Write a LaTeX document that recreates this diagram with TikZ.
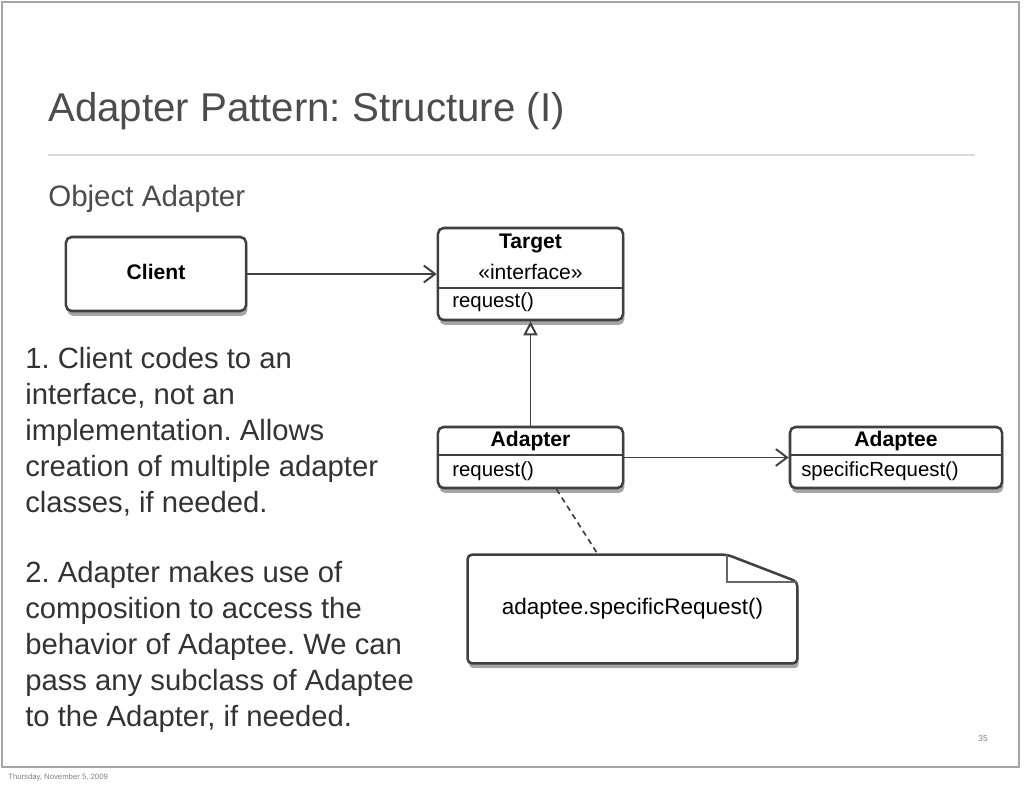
\documentclass[tikz,border=0pt]{standalone}
\usepackage{fontspec}
\setmainfont{Liberation Sans}
\usetikzlibrary{arrows.meta,shadows}
\frenchspacing

\tikzset{
  umlbox/.style={draw=black!75, line width=1.8pt, rounded corners=4pt, fill=white,
    drop shadow={shadow xshift=1pt, shadow yshift=-3.5pt, opacity=.5, fill=black!70}},
  classname/.style={font=\fontsize{15}{17}\selectfont\bfseries, inner sep=0pt},
  member/.style={font=\fontsize{14.5}{17}\selectfont, inner sep=0pt, anchor=west},
  compline/.style={black!75, line width=1.4pt},
  assoc/.style={draw=black!75, line width=1.4pt, -{Straight Barb[length=8pt,width=12pt,line width=1.4pt]}},
  realize/.style={draw=black!75, line width=1.4pt, -{Triangle[open,length=10pt,width=10pt,fill=white]}},
  noteline/.style={draw=black!75, line width=1.2pt, dash pattern=on 4pt off 3pt},
  bodytext/.style={font=\fontsize{20.8}{25.6}\selectfont, text=black!80, align=left, inner sep=0pt, anchor=north west},
}

\begin{document}
\begin{tikzpicture}[x=0.025cm,y=-0.025cm]

   \useasboundingbox (0,0) rectangle (1024,788);
   \draw[black!35, line width=1.5pt] (2,2) rectangle (1019,767);

   \node[anchor=base west, inner sep=0pt, text=black!70, font=\fontsize{28.6}{32}\selectfont] (title) at (48,122) {Adapter Pattern: Structure (I)};
   \draw[black!15, line width=1.5pt] (48,155) -- (975,155);
   \node[anchor=base west, inner sep=0pt, text=black!70, font=\fontsize{21}{24}\selectfont] (subtitle) at (48,206) {Object Adapter};

   \node[bodytext] (point1) at (25,347) {1. Client codes to an\\interface, not an\\implementation. Allows\\creation of multiple adapter\\classes, if needed.};
   \node[bodytext] (point2) at (25,561) {2. Adapter makes use of\\composition to access the\\behavior of Adaptee. We can\\pass any subclass of Adaptee\\to the Adapter, if needed.};

   \node[umlbox, minimum width=4.5cm, minimum height=1.85cm] (client) at (156,274) {};
   \node[classname] (clientname) at (156,272) {Client};

   \node[umlbox, minimum width=4.625cm, minimum height=2.3cm] (target) at (530.5,274) {};
   \node[classname] (targetname) at (530.5,243) {Target};
   \node[classname, font=\fontsize{15}{17}\selectfont] (targetstereo) at (530.5,272) {«interface»};
   \draw[compline] (target.west |- 0,288) -- (target.east |- 0,288);
   \node[member] (targetop) at (452,302) {request()};

   \node[umlbox, minimum width=4.625cm, minimum height=1.525cm] (adapter) at (530.5,457.5) {};
   \node[classname] (adaptername) at (530.5,441) {Adapter};
   \draw[compline] (adapter.west |- 0,455) -- (adapter.east |- 0,455);
   \node[member] (adapterop) at (452,471) {request()};

   \node[umlbox, minimum width=5.3cm, minimum height=1.525cm] (adaptee) at (896,457.5) {};
   \node[classname] (adapteename) at (896,441) {Adaptee};
   \draw[compline] (adaptee.west |- 0,455) -- (adaptee.east |- 0,455);
   \node[member] (adapteeop) at (801,471) {specificRequest()};

   \node[minimum width=8.225cm, minimum height=2.7cm, inner sep=0pt] (note) at (632.5,609) {};
   \draw[black!75, line width=1.8pt, rounded corners=3pt, fill=white,
         drop shadow={shadow xshift=1pt, shadow yshift=-3.5pt, opacity=.5, fill=black!70}]
      (note.north west) -- ([xshift=-1.75cm]note.north east)
      -- ([yshift=-0.675cm]note.north east) -- (note.south east)
      -- (note.south west) -- cycle;
   \draw[black!60, line width=1.2pt] ([xshift=-1.75cm]note.north east)
      -- ([xshift=-1.75cm,yshift=-0.675cm]note.north east) -- ([yshift=-0.675cm]note.north east);
   \node[font=\fontsize{16}{18}\selectfont, inner sep=0pt] (notetext) at (note.center) {adaptee.specificRequest()};

   \draw[assoc] (client) -- (target);
   \draw[realize] (adapter) -- (target);
   \draw[assoc] (adapter) -- (adaptee);
   \draw[noteline] ([xshift=0.65cm]adapter.south) -- ([xshift=-0.86cm]note.north);

   \node[anchor=base east, inner sep=0pt, text=black!50, font=\fontsize{6}{7}\selectfont] (pageno) at (988,741) {35};
   \node[anchor=base west, inner sep=0pt, text=black!50, font=\fontsize{5.5}{7}\selectfont] (footer) at (8,779) {Thursday, November 5, 2009};

 \end{tikzpicture}
\end{document}
